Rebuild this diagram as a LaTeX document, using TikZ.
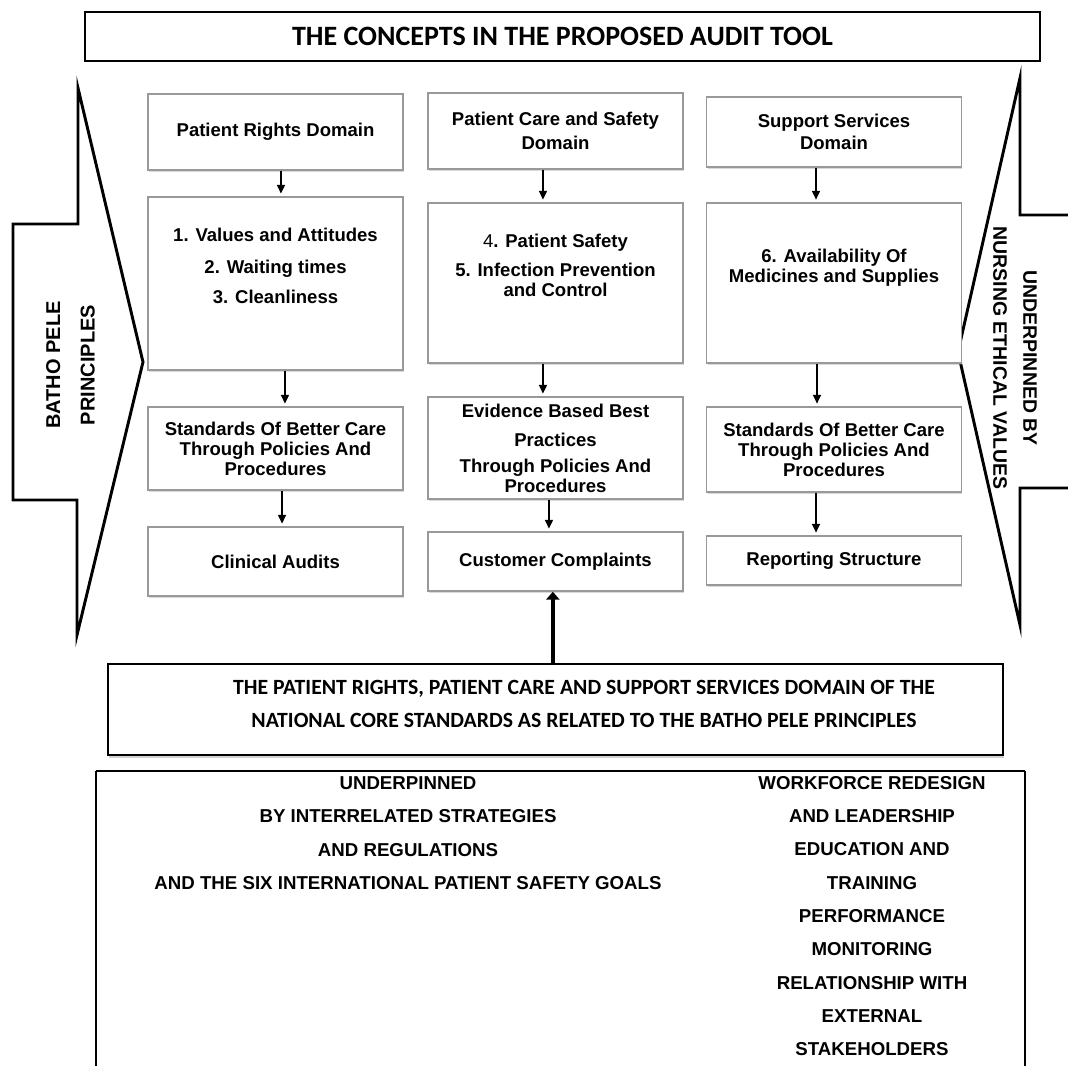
\documentclass[tikz,border=0pt]{standalone}
\usepackage{fontspec}
\setmainfont{Liberation Sans}
\newfontfamily\carlito{Carlito}
\usetikzlibrary{arrows.meta,shadows}

\begin{document}
\begin{tikzpicture}[x=0.75pt,y=-0.75pt,
        box/.style={draw=black!40,line width=1.1pt,fill=white,
            drop shadow={opacity=0.3,shadow xshift=0.8pt,shadow yshift=-1.2pt},
            minimum width=191pt,align=center,inner sep=2pt,
            font=\fontsize{13.9}{15}\selectfont\bfseries},
        boxtext/.style={align=center,font=\fontsize{13.9}{15}\selectfont\bfseries},
        arr/.style={line width=0.9pt,-{Triangle[length=6.5pt,width=6pt]},shorten >=2pt},
        bigarrow/.style={line width=2.2pt,line join=miter},
        sidetext/.style={align=center,font=\fontsize{15}{26}\selectfont\bfseries},
        listtext/.style={align=center,font=\fontsize{14}{25}\selectfont\bfseries}]
        \useasboundingbox (0,0) rectangle (1068,1065);

        %titolo
        \node[draw,line width=1.2pt,minimum width=716pt,minimum height=37pt,
            font=\carlito\fontsize{21}{24}\selectfont\bfseries] (title) at (562.5,36.5)
            {THE CONCEPTS IN THE PROPOSED AUDIT TOOL};

        %freccia sinistra
        \draw[bigarrow] (13,224) -- (78,224) -- (78,88) -- (143,362) -- (77,635) -- (77,500) -- (13,500) -- cycle;
        \node[sidetext,rotate=90] (batho) at (70.5,365) {BATHO PELE\\PRINCIPLES};
        %freccia destra
        \draw[bigarrow] (1080,215) -- (1020,215) -- (1020,78) -- (958,352) -- (1020,625) -- (1020,488) -- (1080,488);
        \node[sidetext,rotate=-90,font=\fontsize{14.6}{22.5}\selectfont\bfseries] (nursing) at (1015,358)
            {UNDERPINNED BY\\NURSING ETHICAL VALUES};

        %domini
        \node[box,minimum height=57pt] (prd) at (275.5,132) {Patient Rights Domain};
        \node[box,minimum height=57pt] (pcd) at (555.5,131) {Patient Care and Safety\\[3pt]Domain};
        \node[box,minimum height=52.5pt] (ssd) at (834,132) {Support Services\\[1.5pt]Domain};

        %concetti
        \node[box,minimum height=129.75pt] (val) at (275.5,283.5) {};
        \node[box,minimum height=120pt] (saf) at (555.5,283) {};
        \node[box,minimum height=120pt] (med) at (834,283) {};
        \node[boxtext] (valtext) at (275.5,266) {1. Values and Attitudes\\[9pt]2. Waiting times\\[7.5pt]3. Cleanliness};
        \node[boxtext] (saftext) at (555.5,265) {{\mdseries 4}. Patient Safety\\[6.75pt]5. Infection Prevention\\and Control};
        \node[boxtext] (medtext) at (834,267.5) {6. Availability Of\\Medicines and Supplies};

        %standard
        \node[box,minimum height=62.25pt] (sbcl) at (275.5,448.5) {Standards Of Better Care\\Through Policies And\\Procedures};
        \node[box,minimum height=76.5pt] (ebp) at (555.5,448) {Evidence Based Best\\[6.75pt]Practices\\[4.5pt]Through Policies And\\Procedures};
        \node[box,minimum height=63.75pt] (sbcr) at (834,449.5) {Standards Of Better Care\\Through Policies And\\Procedures};

        %verifica
        \node[box,minimum height=51.75pt] (cla) at (275.5,561.5) {Clinical Audits};
        \node[box,minimum height=44.25pt] (cuc) at (555.5,561.5) {Customer Complaints};
        \node[box,minimum height=36.75pt] (rep) at (834,560.5) {Reporting Structure};

        %frecce
        \draw[arr] ([xshift=4.1pt]prd.south) -- ([xshift=4.1pt]val.north);
        \draw[arr] ([xshift=7.1pt]val.south) -- ([xshift=7.1pt]sbcl.north);
        \draw[arr] ([xshift=4.9pt]sbcl.south) -- ([xshift=4.9pt]cla.north);
        \draw[arr] ([xshift=-9.4pt]pcd.south) -- ([xshift=-9.4pt]saf.north);
        \draw[arr] ([xshift=-9.4pt]saf.south) -- ([xshift=-9.4pt]ebp.north);
        \draw[arr] ([xshift=-4.9pt]ebp.south) -- ([xshift=-4.9pt]cuc.north);
        \draw[arr] ([xshift=-13.5pt]ssd.south) -- ([xshift=-13.5pt]med.north);
        \draw[arr] ([xshift=-12.75pt]med.south) -- ([xshift=-12.75pt]sbcr.north);
        \draw[arr] ([xshift=-13.5pt]sbcr.south) -- ([xshift=-13.5pt]rep.north);

        %standard nazionali
        \node[draw,line width=0.8pt,fill=white,minimum width=671.25pt,minimum height=68.25pt,
            drop shadow={opacity=0.35,shadow xshift=0.6pt,shadow yshift=-2pt}] (ncs) at (555.5,709.5) {};
        \node[align=center,font=\carlito\fontsize{16.3}{24.75}\selectfont\bfseries] (ncstext) at (584,703.5)
            {THE PATIENT RIGHTS, PATIENT CARE AND SUPPORT SERVICES DOMAIN OF THE\\NATIONAL CORE STANDARDS AS RELATED TO THE BATHO PELE PRINCIPLES};
        \draw[line width=3.5pt,-{Triangle[length=6pt,width=10pt]}] ([xshift=-2pt]ncs.north) -- ([xshift=-2pt]cuc.south);

        %strategie
        \draw[line width=1.6pt] (96,771) -- (1025,771);
        \draw[line width=0.9pt] (96,771) -- (96,1075);
        \draw[line width=0.9pt] (1025,771) -- (1025,1075);
        \node[listtext] (strat) at (408,833) {UNDERPINNED\\BY INTERRELATED STRATEGIES\\AND REGULATIONS\\AND THE SIX INTERNATIONAL PATIENT SAFETY GOALS};
        \node[listtext] (work) at (872,916) {WORKFORCE REDESIGN\\AND LEADERSHIP\\EDUCATION AND\\TRAINING\\PERFORMANCE\\MONITORING\\RELATIONSHIP WITH\\EXTERNAL\\STAKEHOLDERS};
\end{tikzpicture}
\end{document}
